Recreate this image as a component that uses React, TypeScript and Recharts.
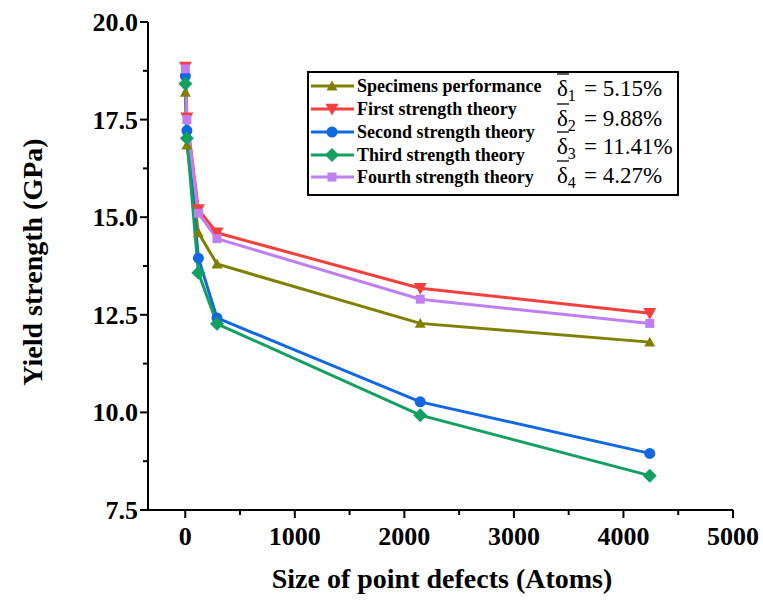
import React from "react"
import { LineChart, Line, XAxis, YAxis, Label } from "recharts"

const defectSizes = [1, 15, 120, 290, 2145, 4240]
const specimens = [18.2, 16.85, 14.6, 13.8, 12.28, 11.8]
const firstTheory = [18.85, 17.55, 15.2, 14.6, 13.18, 12.54]
const secondTheory = [18.62, 17.22, 13.95, 12.42, 10.27, 8.95]
const thirdTheory = [18.42, 17.02, 13.58, 12.27, 9.93, 8.38]
const fourthTheory = [18.8, 17.5, 15.1, 14.45, 12.9, 12.28]

const xTicks = [0, 500, 1000, 1500, 2000, 2500, 3000, 3500, 4000, 4500, 5000]
const yTicks = [7.5, 8.75, 10, 11.25, 12.5, 13.75, 15, 16.25, 17.5, 18.75, 20]
const deviations = ["5.15%", "9.88%", "11.41%", "4.27%"]

const series = [
    { key: "specimens", name: "Specimens performance", color: "#808000", shape: "up", values: specimens },
    { key: "first", name: "First strength theory", color: "#f43f3f", shape: "down", values: firstTheory },
    { key: "second", name: "Second strength theory", color: "#1168e0", shape: "circle", values: secondTheory },
    { key: "third", name: "Third strength theory", color: "#12a062", shape: "diamond", values: thirdTheory },
    { key: "fourth", name: "Fourth strength theory", color: "#c07ff0", shape: "square", values: fourthTheory },
]

const data = defectSizes.map((x, i) => {
    const row: Record<string, number> = { x }
    series.forEach((s) => (row[s.key] = s.values[i]))
    return row
})

const FONT = "'Liberation Serif', 'Times New Roman', serif"

function Marker({ cx, cy, shape, color }: any) {
    if (cx == null || cy == null) return null
    if (shape === "up") {
        const r = 5.5
        return <polygon points={`${cx},${cy - r} ${cx - r},${cy + r * 0.8} ${cx + r},${cy + r * 0.8}`} fill={color} />
    }
    if (shape === "down") {
        const r = 6.5
        return <polygon points={`${cx - r},${cy - r * 0.8} ${cx + r},${cy - r * 0.8} ${cx},${cy + r}`} fill={color} />
    }
    if (shape === "circle") return <circle cx={cx} cy={cy} r={5.5} fill={color} />
    if (shape === "diamond") {
        const r = 7
        return <polygon points={`${cx},${cy - r} ${cx + r},${cy} ${cx},${cy + r} ${cx - r},${cy}`} fill={color} />
    }
    return <rect x={cx - 4.5} y={cy - 4.5} width={9} height={9} fill={color} />
}

function XTick({ x, y, payload }: any) {
    const major = payload.value % 1000 === 0
    return (
        <g>
            <line x1={x} y1={y} x2={x} y2={y + (major ? 8 : 5)} stroke="#000" strokeWidth={2} />
            {major && (
                <text x={x} y={y + 35} textAnchor="middle" fontFamily={FONT} fontWeight="bold" fontSize={26} fill="#000">
                    {payload.value}
                </text>
            )}
        </g>
    )
}

function YTick({ x, y, payload }: any) {
    const major = Math.abs(payload.value / 2.5 - Math.round(payload.value / 2.5)) < 1e-6
    return (
        <g>
            <line x1={x} y1={y} x2={x - (major ? 8 : 5)} y2={y} stroke="#000" strokeWidth={2} />
            {major && (
                <text x={x - 10} y={y + 9} textAnchor="end" fontFamily={FONT} fontWeight="bold" fontSize={26} fill="#000">
                    {payload.value.toFixed(1)}
                </text>
            )}
        </g>
    )
}

function LegendBox() {
    const rowY = [15, 38, 61, 84, 106]
    const deltaY = [17, 47, 75, 104]
    return (
        <svg width={372} height={125} style={{ display: "block" }}>
            <rect x={1} y={1} width={370} height={123} fill="#fff" stroke="#000" strokeWidth={2} />
            {series.map((s, i) => (
                <g key={s.key}>
                    <line x1={4} y1={rowY[i]} x2={47} y2={rowY[i]} stroke={s.color} strokeWidth={3} />
                    <Marker cx={25} cy={rowY[i]} shape={s.shape} color={s.color} />
                    <text x={50} y={rowY[i] + 6} fontFamily={FONT} fontWeight="bold" fontSize={18} fill="#000">
                        {s.name}
                    </text>
                </g>
            ))}
            {deviations.map((d, i) => (
                <g key={d}>
                    <line x1={250} y1={deltaY[i] - 14} x2={262} y2={deltaY[i] - 14} stroke="#000" strokeWidth={1.3} />
                    <text x={250} y={deltaY[i] + 8} fontFamily={FONT} fontSize={23} fill="#000">
                        δ
                        <tspan fontSize={16} dy={5}>{i + 1}</tspan>
                    </text>
                    <text x={277} y={deltaY[i] + 8} fontFamily={FONT} fontSize={23} fill="#000">
                        {"= " + d}
                    </text>
                </g>
            ))}
        </svg>
    )
}

export default function App() {
    return (
        <div style={{ position: "fixed", left: 0, top: 0, width: 763, height: 601, background: "#fff" }}>
            <LineChart width={763} height={601} data={data} margin={{ top: 22, right: 30, left: 0, bottom: 0 }}>
                <XAxis
                    dataKey="x"
                    type="number"
                    domain={[-340, 5000]}
                    ticks={xTicks}
                    interval={0}
                    height={91}
                    tickSize={0}
                    tickMargin={0}
                    tickLine={false}
                    tick={<XTick />}
                    axisLine={{ stroke: "#000", strokeWidth: 2 }}
                >
                    <Label
                        content={() => (
                            <text x={442} y={588} textAnchor="middle" fontFamily={FONT} fontWeight="bold" fontSize={28} fill="#000">
                                Size of point defects (Atoms)
                            </text>
                        )}
                    />
                </XAxis>
                <XAxis
                    xAxisId="top"
                    orientation="top"
                    dataKey="x"
                    type="number"
                    domain={[-340, 5000]}
                    height={0}
                    tick={false}
                    tickLine={false}
                    axisLine={{ stroke: "#000", strokeWidth: 2 }}
                />
                <YAxis
                    type="number"
                    domain={[7.5, 20]}
                    ticks={yTicks}
                    interval={0}
                    width={148}
                    tickSize={0}
                    tickMargin={0}
                    tickLine={false}
                    tick={<YTick />}
                    axisLine={{ stroke: "#000", strokeWidth: 2 }}
                >
                    <Label
                        content={() => (
                            <text
                                x={42}
                                y={262}
                                transform="rotate(-90 42 262)"
                                textAnchor="middle"
                                fontFamily={FONT}
                                fontWeight="bold"
                                fontSize={28}
                                fill="#000"
                            >
                                Yield strength (GPa)
                            </text>
                        )}
                    />
                </YAxis>
                <YAxis
                    yAxisId="right"
                    orientation="right"
                    type="number"
                    domain={[7.5, 20]}
                    width={0}
                    tick={false}
                    tickLine={false}
                    axisLine={{ stroke: "#000", strokeWidth: 2 }}
                />
                {series.map((s) => (
                    <Line
                        key={s.key}
                        dataKey={s.key}
                        name={s.name}
                        stroke={s.color}
                        strokeWidth={3}
                        dot={(p: any) => <Marker key={`${s.key}-${p.index}`} cx={p.cx} cy={p.cy} shape={s.shape} color={s.color} />}
                        activeDot={false}
                        isAnimationActive={false}
                    />
                ))}
            </LineChart>
            <div style={{ position: "absolute", left: 307, top: 71 }}>
                <LegendBox />
            </div>
        </div>
    )
}
